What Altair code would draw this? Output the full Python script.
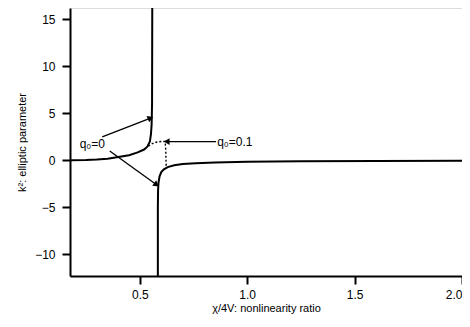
import altair as alt
import pandas as pd

# q0 = 0, upper branch (pole near 0.556)
up_x = [0.175, 0.25, 0.30, 0.35, 0.40, 0.45, 0.49, 0.52, 0.535, 0.547, 0.552, 0.555, 0.557, 0.558]
up_y = [0.0, 0.03, 0.08, 0.18, 0.35, 0.55, 0.85, 1.15, 1.45, 2.0, 2.8, 3.8, 6.0, 16.2]
# q0 = 0, lower branch
lo_x = [0.584, 0.584, 0.585, 0.587, 0.592, 0.600, 0.612, 0.630, 0.660, 0.700, 0.760, 0.850, 1.00, 1.25, 1.60, 2.00]
lo_y = [-12.3, -5.0, -3.2, -2.4, -1.7, -1.25, -0.95, -0.72, -0.52, -0.4, -0.3, -0.22, -0.15, -0.1, -0.07, -0.05]
# q0 = 0.1 (dotted)
dt_x = [0.540, 0.552, 0.565, 0.580, 0.600, 0.618, 0.621, 0.622, 0.623, 0.635]
dt_y = [1.5, 1.7, 1.85, 1.95, 2.0, 2.0, 1.0, 0.0, -0.55, -0.7]

# annotations
arrow_x1 = [0.325, 0.36, 0.855]
arrow_y1 = [2.5, 1.0, 2.0]
arrow_x2 = [0.550, 0.578, 0.625]
arrow_y2 = [4.5, -2.6, 2.0]
arrow_angle = [337, 36, 180]
label_text = ["q₀=0", "q₀=0.1"]
label_x = [0.22, 0.86]
label_y = [1.7, 2.0]

x_ticks = [0.5, 1.0, 1.5, 2.0]
y_ticks = [-10, -5, 0, 5, 10, 15]
x_dom = [0.175, 2.0]
y_dom = [-12.3, 16.2]

FONT = "Liberation Sans"

xs = alt.Scale(domain=x_dom, nice=False, zero=False)
ys = alt.Scale(domain=y_dom, nice=False, zero=False)

xax = alt.Axis(values=x_ticks, format=".1f", grid=False, domainColor="black", domainWidth=2,
               tickColor="black", tickWidth=2, tickSize=8, labelFontSize=12, labelColor="black",
               labelFont=FONT, labelPadding=5, title="χ/4V: nonlinearity ratio", titleFont=FONT,
               titleFontSize=11, titleFontWeight="normal", titleColor="black", titlePadding=2)
yax = alt.Axis(values=y_ticks, grid=False, domainColor="black", domainWidth=2,
               tickColor="black", tickWidth=2, tickSize=8, labelFontSize=12, labelColor="black",
               labelFont=FONT, labelPadding=7, title="k²: elliptic parameter", titleFont=FONT,
               titleFontSize=11, titleFontWeight="normal", titleColor="black", titlePadding=7)

up = pd.DataFrame({"x": up_x, "y": up_y, "o": range(len(up_x))})
lo = pd.DataFrame({"x": lo_x, "y": lo_y, "o": range(len(lo_x))})
dt = pd.DataFrame({"x": dt_x, "y": dt_y, "o": range(len(dt_x))})
ar = pd.DataFrame({"x1": arrow_x1, "y1": arrow_y1, "x2": arrow_x2, "y2": arrow_y2, "a": arrow_angle})
lb = pd.DataFrame({"t": label_text, "x": label_x, "y": label_y})

def curve(df, **kw):
    return alt.Chart(df).mark_line(color="black", clip=True, **kw).encode(
        x=alt.X("x:Q", scale=xs, axis=xax),
        y=alt.Y("y:Q", scale=ys, axis=yax),
        order="o:Q",
    )

dotted = curve(dt, strokeWidth=1.4, strokeDash=[2, 2])
upper = curve(up, strokeWidth=2)
lower = curve(lo, strokeWidth=2)

shafts = alt.Chart(ar).mark_rule(color="black", strokeWidth=1.3).encode(
    x=alt.X("x1:Q", scale=xs), y=alt.Y("y1:Q", scale=ys), x2="x2:Q", y2="y2:Q")
heads = alt.Chart(ar).mark_point(shape="triangle-right", filled=True, color="black",
                                 size=45, opacity=1).encode(
    x=alt.X("x2:Q", scale=xs), y=alt.Y("y2:Q", scale=ys), angle=alt.Angle("a:Q", scale=None))
labels = alt.Chart(lb).mark_text(align="left", baseline="middle", fontSize=12, font=FONT,
                                 color="black").encode(
    x=alt.X("x:Q", scale=xs), y=alt.Y("y:Q", scale=ys), text="t:N")

chart = alt.layer(dotted, upper, lower, shafts, heads, labels).properties(
    width=392, height=268,
    autosize=alt.AutoSizeParams(type="none"),
    padding={"left": 62, "top": 0, "right": 0, "bottom": 42},
).configure_view(stroke=None).configure(background="white")

chart.save("out.html", embed_options={"renderer": "svg", "actions": False})
